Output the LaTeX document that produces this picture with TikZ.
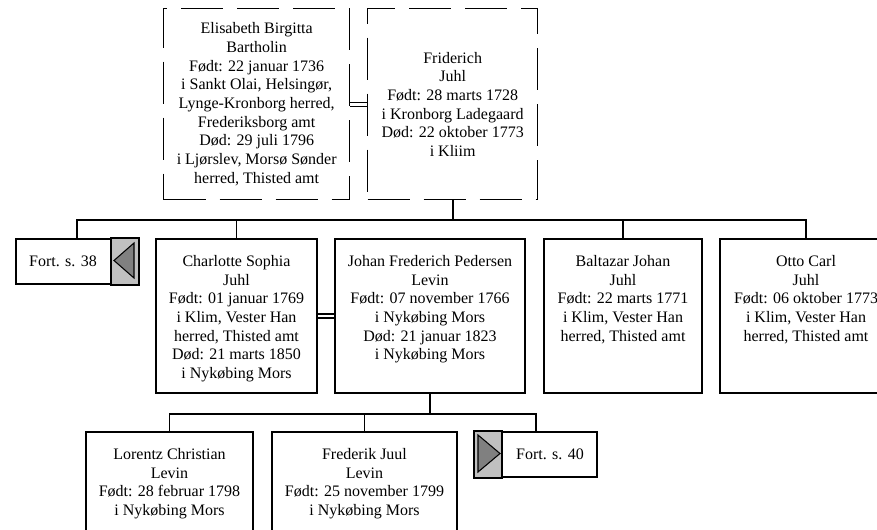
\documentclass[tikz,border=0pt]{standalone}
\usepackage{fontspec}
\setmainfont{Liberation Serif}

\definecolor{fortlight}{HTML}{C0C0C0}
\definecolor{fortdark}{HTML}{808080}

\newcommand{\ptext}[3]{\parbox[c][#2][t]{#1}{\centering\vspace*{10.9pt}\strut#3}}

\tikzset{
  boxfont/.style={font=\fontsize{12pt}{14pt}\selectfont},
  person/.style={draw, line width=1.5pt, inner sep=0pt, anchor=north west, boxfont},
  spouse/.style={draw, line width=1pt, dash pattern=on 31.5pt off 10.5pt, inner sep=0pt,
    anchor=north west, align=center, minimum height=143.25pt, boxfont},
  fortbox/.style={draw, line width=1.5pt, inner sep=0pt, anchor=north west, minimum height=33.75pt, boxfont},
  fortgray/.style={draw, line width=1.5pt, fill=fortlight},
  fortarrow/.style={draw, line width=0.8pt, fill=fortdark},
  conn/.style={line width=1.4pt},
  marriage/.style={double, double distance=2.2pt, line width=0.8pt}
}

\begin{document}
\begin{tikzpicture}[x=0.75pt, y=-0.75pt]
\clip (0,0) rectangle (877,529);

% parents
\node[spouse, minimum width=139.5pt] (elisabeth) at (163,8) {Elisabeth Birgitta\\Bartholin\\Født: 22 januar 1736\\i Sankt Olai, Helsingør,\\Lynge-Kronborg herred,\\Frederiksborg amt\\Død: 29 juli 1796\\i Ljørslev, Morsø Sønder\\herred, Thisted amt};
\node[spouse, minimum width=127.5pt] (friderich) at (367,8) {Friderich\\Juhl\\Født: 28 marts 1728\\i Kronborg Ladegaard\\Død: 22 oktober 1773\\i Kliim};

% children
\node[fortbox] (fortA) at (15,238) {\makebox[70.5pt]{Fort. s. 38}\kern21pt};
\node[person] (charlotte) at (155,238) {\ptext{120.75pt}{115.5pt}{Charlotte Sophia\\Juhl\\Født: 01 januar 1769\\i Klim, Vester Han\\herred, Thisted amt\\Død: 21 marts 1850\\i Nykøbing Mors}};
\node[person] (johan) at (334,238) {\ptext{142.5pt}{115.5pt}{Johan Frederich Pedersen\\Levin\\Født: 07 november 1766\\i Nykøbing Mors\\Død: 21 januar 1823\\i Nykøbing Mors}};
\node[person] (baltazar) at (543,238) {\ptext{118.5pt}{115.5pt}{Baltazar Johan\\Juhl\\Født: 22 marts 1771\\i Klim, Vester Han\\herred, Thisted amt}};
\node[person] (otto) at (719,238) {\ptext{129pt}{115.5pt}{Otto Carl\\Juhl\\Født: 06 oktober 1773\\i Klim, Vester Han\\herred, Thisted amt}};

% grandchildren
\node[person] (lorentz) at (85,431) {\ptext{125.25pt}{115.5pt}{Lorentz Christian\\Levin\\Født: 28 februar 1798\\i Nykøbing Mors}};
\node[person] (frederik) at (271,431) {\ptext{138.75pt}{115.5pt}{Frederik Juul\\Levin\\Født: 25 november 1799\\i Nykøbing Mors}};
\node[fortbox] (fortB) at (474,431) {\kern21pt\makebox[70.5pt]{Fort. s. 40}};

% continuation markers
\draw[fortgray] (fortA.north east) rectangle ([xshift=-21pt]fortA.south east);
\draw[fortarrow] ([shift={(-5,5)}]fortA.north east) -- ++(0,35) -- ++(-20,-17.5) -- cycle;
\draw[fortgray] (fortB.north west) rectangle ([xshift=21pt]fortB.south west);
\draw[fortarrow] ([shift={(4,4)}]fortB.north west) -- ++(0,37) -- ++(22,-18.5) -- cycle;

% marriages
\draw[marriage] (elisabeth.east) -- (friderich.west);
\draw[marriage] (charlotte.east) -- (johan.west);

% descent lines
\draw[conn] (friderich.south) -- ++(0,20) coordinate (rowa);
\draw[conn] (fortA.north) |- (otto.north |- rowa) -- (otto.north);
\draw[conn] (charlotte.north) -- (charlotte.north |- rowa);
\draw[conn] (baltazar.north) -- (baltazar.north |- rowa);

\draw[conn] (johan.south) -- ++(0,20) coordinate (rowb);
\draw[conn] (lorentz.north) |- (fortB.north |- rowb) -- (fortB.north);
\draw[conn] (frederik.north) -- (frederik.north |- rowb);

\end{tikzpicture}
\end{document}
